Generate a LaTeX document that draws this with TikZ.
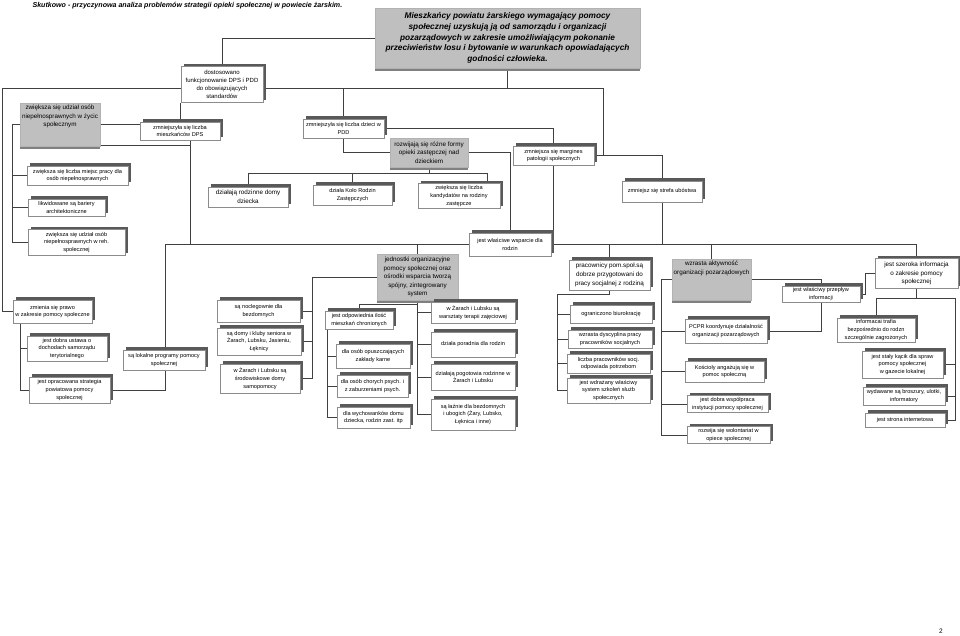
\documentclass[tikz,border=0pt]{standalone}
\usepackage{fontspec}
\setmainfont{Liberation Sans}
\usetikzlibrary{shadows,backgrounds}

\begin{document}
\begin{tikzpicture}
          [x=1pt,y=-1pt,
          sz/.style 2 args={minimum width=#1pt,minimum height=#2pt},
          box/.style={draw=black!45,line width=0.4pt,fill=white,inner sep=1pt,align=center,
            font=\fontsize{5.6pt}{7.8pt}\selectfont,
            drop shadow={shadow xshift=3pt,shadow yshift=3pt,fill=black!65,opacity=1}},
          mbox/.style={box,font=\fontsize{6.3pt}{8.8pt}\selectfont},
          gbox/.style={draw=black!30,line width=0.4pt,fill=black!25,inner sep=1pt,align=center,
            font=\fontsize{6.3pt}{8.6pt}\selectfont,
            drop shadow={shadow xshift=0pt,shadow yshift=-3pt,fill=black!50,opacity=1}},
          gtxt/.style={anchor=north,align=center,inner sep=2pt,font=\fontsize{6.3pt}{8.6pt}\selectfont},
          conn/.style={draw=black!75,line width=0.5pt}]

            \useasboundingbox (0,0) rectangle (960,635);

            \node (tytul) [anchor=west,font=\bfseries\itshape\fontsize{7.1pt}{8pt}\selectfont] at (29,5.5)
              {Skutkowo - przyczynowa analiza problemów strategii opieki społecznej w powiecie żarskim.};

            \node (glowny) [gbox,sz={265}{60},font=\bfseries\itshape\fontsize{8.3pt}{10.8pt}\selectfont] at (507.5,38)
              {Mieszkańcy powiatu żarskiego wymagający pomocy\\społecznej uzyskują ją od samorządu  i organizacji\\pozarządowych w zakresie umożliwiającym pokonanie\\przeciwieństw losu i bytowanie w warunkach opowiadających\\godności człowieka.};

            % lewa strona
            \node (dostos) [box,sz={82}{36},font=\fontsize{6pt}{8.2pt}\selectfont] at (222,84.5) {dostosowano\\funkcjonowanie DPS i PDD\\do obowiązujących\\standardów};
            \node (udzial) [gbox,sz={80}{43},label={[gtxt]north:{zwiększa się udział osób\\niepełnosprawnych w życic\\społecznym}}] at (60,124.5) {};
            \node (dps) [box,sz={80}{18}] at (180,131) {zmniejszyła się liczba\\mieszkańców DPS};
            \node (miejsc) [box,sz={101}{19}] at (77.5,175.5) {zwiększa się liczba miejsc pracy dla\\osób niepełnosprawnych};
            \node (likw) [box,sz={77}{17}] at (66.5,207.5) {likwidowane są bariery\\architektoniczne};
            \node (reh) [box,sz={97}{26}] at (76.5,242.5) {zwiększa się udział osób\\niepełnosprawnych w reh.\\społecznej};
            \node (zmienia) [box,sz={79}{23}] at (52.5,311.5) {zmienia się prawo\\w zakresie pomocy społeczne};
            \node (ustawa) [box,sz={80}{25}] at (67,348.5) {jest dobra ustawa o\\dochodach samorządu\\terytorialnego};
            \node (strateg) [box,sz={81}{26}] at (69.5,390) {jest opracowana strategia\\powiatowa pomocy\\społecznej};
            \node (lokalne) [box,sz={82}{20}] at (164,360) {są lokalne  programy pomocy\\społecznej};

            % srodek
            \node (pdd) [box,sz={81}{19}] at (343.5,128.5) {zmniejszyła się liczba dzieci w\\PDD};
            \node (rozwijaja) [gbox,sz={78}{29}] at (429,152.5) {rozwijają się różne formy\\opieki zastępczej nad\\dzieckiem};
            \node (margines) [box,sz={81}{19}] at (553.5,155.5) {zmniejsza się margines\\patologii społecznych};
            \node (strefa) [box,sz={80}{21}] at (662,191.5) {zmniejsz się strefa ubóstwa};
            \node (rodzinne) [mbox,sz={80}{20}] at (248,197) {działają rodzinne domy\\dziecka};
            \node (kolo) [box,sz={79}{20}] at (352.5,195) {działa Koło Rodzin\\Zastępczych};
            \node (kandyd) [box,sz={82}{25}] at (459,196) {zwiększa się liczba\\kandydatów na rodziny\\zastępcze};
            \node (wsparcie) [box,sz={82}{23}] at (510,244.5) {jest właściwe wsparcie dla\\rodzin};
            \node (jednostki) [gbox,sz={81}{46}] at (417.5,277) {jednostki organizacyjne\\pomocy społecznej oraz\\ośrodki wsparcia tworzą\\spójny, zintegrowany\\system};

            \node (noclegi) [box,sz={83}{22}] at (258.5,311) {są noclegownie dla\\bezdomnych};
            \node (domy) [box,sz={84}{27}] at (259,341.5) {są domy i kluby seniora w\\Żarach, Lubsku, Jasieniu,\\Łęknicy};
            \node (srodow) [box,sz={80}{29}] at (260,378.5) {w Żarach i Lubsku są\\środowiskowe domy\\samopomocy};
            \node (mieszk) [box,sz={68}{18}] at (359,320) {jest odpowiednia ilość\\mieszkań chronionych};
            \node (opuszcz) [box,sz={74}{24}] at (373,356) {dla osób opuszczających\\zakłady karne};
            \node (chorych) [box,sz={71}{22}] at (372.5,386) {dla osób chorych psych.  i\\z zaburzeniami psych.};
            \node (wychow) [box,sz={73}{21}] at (373.5,417.5) {dla wychowanków domu\\dziecka, rodzin zast. itp};
            \node (warszt) [box,sz={84}{21}] at (473,312.5) {w Żarach i Lubsku są\\warsztaty terapii zajęciowej};
            \node (poradnia) [box,sz={84}{25}] at (473,344.5) {działa poradnia dla rodzin};
            \node (pogot) [box,sz={84}{26}] at (473,377) {działają pogotowia rodzinne w\\Żarach i Lubsku};
            \node (laznie) [box,sz={84}{31}] at (473,414.5) {są łaźnie dla bezdomnych\\i ubogich (Żary, Lubsko,\\Łęknica i inne)};

            % prawa strona
            \node (prac) [mbox,sz={81}{30}] at (609.5,275) {pracownicy pom.społ.są\\dobrze przygotowani do\\pracy socjalnej z rodziną};
            \node (biuro) [box,sz={82}{18}] at (611,314) {ograniczono biurokrację};
            \node (dyscyp) [box,sz={84}{18}] at (610,339) {wzrasta dyscyplina pracy\\pracowników socjalnych};
            \node (liczba) [box,sz={83}{19}] at (608.5,363.5) {liczba pracowników socj.\\odpowiada potrzebom};
            \node (wdraz) [box,sz={83}{25}] at (608.5,390.5) {jest wdrażany właściwy\\system szkoleń służb\\społecznych};
            \node (aktywnosc) [gbox,sz={79}{41},label={[gtxt]north:{wzrasta aktywność\\organizacji pozarządowych}}] at (711.5,279.5) {};
            \node (pcpr) [box,sz={82}{24}] at (726,331) {PCPR koordynuje działalność\\organizacji pozarządowych};
            \node (koscioly) [box,sz={79}{21}] at (724.5,371.5) {Kościoły angażują się w\\pomoc społeczną};
            \node (wspolpr) [box,sz={81}{17}] at (727.5,404) {jest dobra współpraca\\instytucji pomocy społecznej};
            \node (wolont) [box,sz={83}{17}] at (728.5,435) {rozwija się wolontariat w\\opiece społecznej};
            \node (przeplyw) [box,sz={78}{16}] at (821,294) {jest właściwy przepływ\\informacji};
            \node (szeroka) [mbox,sz={83}{30}] at (916.5,273.5) {jest szeroka informacja\\o zakresie pomocy\\społecznej};
            \node (trafia) [box,sz={78}{24}] at (876,330) {informacai trafia\\bezpośrednio do rodzn\\szczególnie zagrożonych};
            \node (kacik) [box,sz={81}{27}] at (902.5,364.5) {jest stały kącik dla spraw\\pomocy społecznej\\w gazecie lokalnej};
            \node (wydawane) [box,sz={82}{18}] at (904,396) {wydawane są broszury, ulotki,\\informatory};
            \node (strona) [box,sz={80}{14}] at (905,420) {jest strona internetowa};

            \node (nrstr) [font=\fontsize{6.5pt}{8pt}\selectfont] at (941,631) {2};

          \begin{scope}[on background layer]
            \coordinate (b1) at (2,88);
            \coordinate (b2) at (603,88);
            \draw [conn] (b1) -- (b2);
            \draw [conn] (glowny) -| (dostos);
            \draw [conn] (glowny.south) -- (glowny.south |- b1);
            \draw [conn] (b1) |- (zmienia.west);
            \draw [conn] (pdd.north) -- (pdd.north |- b1);
            \draw [conn] (b2) |- (margines.east) -| (strefa.north);

            \coordinate (lz) at (12,124.5);
            \draw [conn] (udzial.west) -- (lz) |- (reh.west);
            \draw [conn] (lz |- miejsc.west) -- (miejsc.west);
            \draw [conn] (lz |- likw.west) -- (likw.west);
            \draw [conn] (udzial.east) -- (udzial.east -| dps.west);
            \draw [conn] (dps.north) -- (dps.north |- dostos.south);
            \coordinate (c1) at (190,145);
            \draw [conn] (udzial.east |- c1) -- (c1) -- (c1 |- wsparcie.west);
            \draw [conn] (c1 |- dps.south) -- (c1);

            \coordinate (w1) at (165,244.5);
            \draw [conn] (wsparcie.west) -- (w1) |- (strateg.east);
            \draw [conn] (jednostki.north) -- (jednostki.north |- w1);
            \draw [conn] (wsparcie.east) -| (szeroka.north);
            \draw [conn] (prac.north) -- (prac.north |- wsparcie.east);
            \draw [conn] (aktywnosc.north) -- (aktywnosc.north |- wsparcie.east);
            \draw [conn] (margines.south) -- (margines.south |- wsparcie.east);
            \draw [conn] (strefa.south) -- (strefa.south |- wsparcie.east);
            \draw [conn] (rozwijaja.east) -| (wsparcie.north);

            \draw [conn] (pdd.south) |- (rozwijaja.west);
            \draw [conn] (pdd.east) -| (margines.north);
            \coordinate (r2) at (487,173);
            \draw [conn] (rozwijaja.south) -- (rozwijaja.south |- r2);
            \draw [conn] (rodzinne.north) |- (r2) -- (r2 |- kandyd.north);
            \draw [conn] (kolo.north) -- (kolo.north |- r2);

            \coordinate (j2) at (312,277);
            \draw [conn] (jednostki.west) -- (j2) |- (srodow.east);
            \draw [conn] (j2 |- noclegi.east) -- (noclegi.east);
            \draw [conn] (j2 |- domy.east) -- (domy.east);
            \coordinate (j1) at (417.5,304);
            \draw [conn] (jednostki.south) |- (laznie.west);
            \foreach \n in {warszt,poradnia,pogot}
              \draw [conn] (j1 |- \n.west) -- (\n.west);
            \draw [conn] (mieszk.north) |- (j1);
            \coordinate (m1) at (327,329);
            \draw [conn] (m1) |- (wychow.west);
            \draw [conn] (m1 |- opuszcz.west) -- (opuszcz.west);
            \draw [conn] (m1 |- chorych.west) -- (chorych.west);

            \coordinate (z1) at (20,323);
            \draw [conn] (z1) |- (strateg.west);
            \draw [conn] (z1 |- ustawa.west) -- (ustawa.west);

            \coordinate (p1) at (557,294);
            \draw [conn] (prac.south) |- (p1) |- (wdraz.west);
            \foreach \n in {biuro,dyscyp,liczba}
              \draw [conn] (p1 |- \n.west) -- (\n.west);

            \coordinate (a1) at (661,279.5);
            \draw [conn] (aktywnosc.west) -- (a1) |- (wolont.west);
            \foreach \n in {pcpr,koscioly,wspolpr}
              \draw [conn] (a1 |- \n.west) -- (\n.west);
            \draw [conn] (aktywnosc.east) -| (przeplyw.north);
            \draw [conn] (szeroka.west) -- ++(-10,0) |- (przeplyw.east);
            \draw [conn] (przeplyw.south) |- (pcpr.east);

            \coordinate (s2) at (955,298);
            \draw [conn] (szeroka.south) -- (szeroka.south |- s2);
            \draw [conn] (trafia.north) |- (s2) |- (strona.east);
            \foreach \n in {kacik,wydawane}
              \draw [conn] (s2 |- \n.east) -- (\n.east);
          \end{scope}

        \end{tikzpicture}
\end{document}
